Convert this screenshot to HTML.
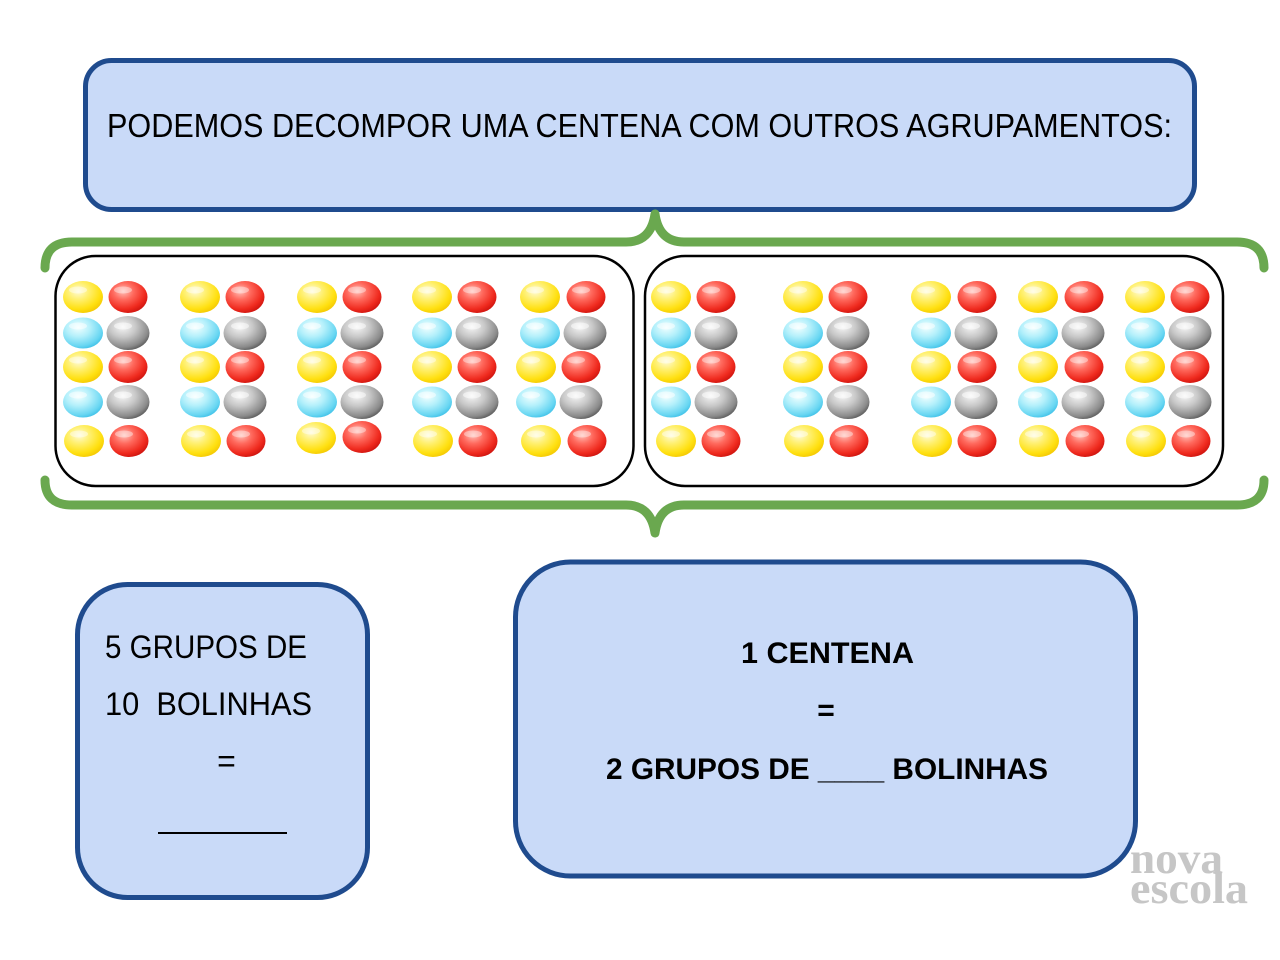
<!DOCTYPE html>
<html>
<head>
<meta charset="utf-8">
<style>
  html,body{margin:0;padding:0;background:#fff;}
  svg{display:block;}
</style>
</head>
<body>
<svg width="1280" height="960" viewBox="0 0 1280 960" xmlns="http://www.w3.org/2000/svg">
  <defs>
    <radialGradient id="gy" cx="0.38" cy="0.32" r="0.75">
      <stop offset="0" stop-color="#fffbd8"/>
      <stop offset="0.35" stop-color="#fff070"/>
      <stop offset="0.75" stop-color="#ffe010"/>
      <stop offset="1" stop-color="#f2c400"/>
    </radialGradient>
    <radialGradient id="gr" cx="0.38" cy="0.32" r="0.75">
      <stop offset="0" stop-color="#ffc0b8"/>
      <stop offset="0.35" stop-color="#ff6a5e"/>
      <stop offset="0.75" stop-color="#ef2a1e"/>
      <stop offset="1" stop-color="#c8100c"/>
    </radialGradient>
    <radialGradient id="gc" cx="0.38" cy="0.32" r="0.75">
      <stop offset="0" stop-color="#f2ffff"/>
      <stop offset="0.4" stop-color="#b4f0fb"/>
      <stop offset="0.8" stop-color="#68d6f2"/>
      <stop offset="1" stop-color="#38bde6"/>
    </radialGradient>
    <radialGradient id="gg" cx="0.38" cy="0.32" r="0.75">
      <stop offset="0" stop-color="#f6f6f6"/>
      <stop offset="0.4" stop-color="#c8c8c8"/>
      <stop offset="0.8" stop-color="#8a8a8a"/>
      <stop offset="1" stop-color="#505050"/>
    </radialGradient>
    <g id="Y"><ellipse rx="20" ry="16" fill="url(#gy)"/><ellipse cx="-5" cy="-7" rx="9" ry="3.5" fill="#fff" opacity=".45"/></g>
    <g id="R"><ellipse rx="19.5" ry="16" fill="url(#gr)"/><ellipse cx="-5" cy="-7" rx="9" ry="3.5" fill="#fff" opacity=".4"/></g>
    <g id="C"><ellipse rx="20" ry="15.5" fill="url(#gc)"/><ellipse cx="-5" cy="-7" rx="9" ry="3.5" fill="#fff" opacity=".5"/></g>
    <g id="G"><ellipse rx="21.5" ry="17" fill="url(#gg)"/><ellipse cx="-5" cy="-7" rx="9" ry="3.5" fill="#fff" opacity=".5"/></g>
  </defs>

  <!-- logo (drawn under boxes) -->
  <text x="1130" y="873" font-family="Liberation Serif, serif" font-weight="bold" font-size="44" fill="#c6c6c6" textLength="93" lengthAdjust="spacingAndGlyphs">nova</text>
  <text x="1130" y="903" font-family="Liberation Serif, serif" font-weight="bold" font-size="44" fill="#c6c6c6" textLength="118" lengthAdjust="spacingAndGlyphs">escola</text>

  <!-- top title box -->
  <rect x="85.5" y="60.5" width="1109" height="149" rx="26" ry="26" fill="#c9daf8" stroke="#1f4b8e" stroke-width="5"/>
  <text x="107" y="137" font-family="Liberation Sans, sans-serif" font-size="33" fill="#000" textLength="1065" lengthAdjust="spacingAndGlyphs">PODEMOS DECOMPOR UMA CENTENA COM OUTROS AGRUPAMENTOS:</text>

  <!-- green braces -->
  <path d="M45 268 Q45 242 72 242 L626 242 Q651 242 655 214 Q659 242 684 242 L1237 242 Q1264 242 1264 268" fill="none" stroke="#6aa84f" stroke-width="9" stroke-linecap="round" stroke-linejoin="round"/>
  <path d="M45 480 Q45 505 72 505 L626 505 Q651 505 655 533 Q659 505 684 505 L1237 505 Q1264 505 1264 480" fill="none" stroke="#6aa84f" stroke-width="9" stroke-linecap="round" stroke-linejoin="round"/>

  <!-- black group boxes -->
  <rect x="55.5" y="256" width="578" height="230" rx="40" ry="40" fill="#fff" stroke="#000" stroke-width="2.5"/>
  <rect x="645" y="256" width="578" height="230" rx="40" ry="40" fill="#fff" stroke="#000" stroke-width="2.5"/>

  <!-- left box balls -->
  <g>
    <use href="#Y" x="83" y="297"/><use href="#R" x="128" y="297"/>
    <use href="#C" x="83" y="333"/><use href="#G" x="128" y="333"/>
    <use href="#Y" x="83" y="367"/><use href="#R" x="128" y="367"/>
    <use href="#C" x="83" y="402"/><use href="#G" x="128" y="402"/>
    <use href="#Y" x="84" y="441"/><use href="#R" x="129" y="441"/>

    <use href="#Y" x="200" y="297"/><use href="#R" x="245" y="297"/>
    <use href="#C" x="200" y="333"/><use href="#G" x="245" y="333"/>
    <use href="#Y" x="200" y="367"/><use href="#R" x="245" y="367"/>
    <use href="#C" x="200" y="402"/><use href="#G" x="245" y="402"/>
    <use href="#Y" x="201" y="441"/><use href="#R" x="246" y="441"/>

    <use href="#Y" x="317" y="297"/><use href="#R" x="362" y="297"/>
    <use href="#C" x="317" y="333"/><use href="#G" x="362" y="333"/>
    <use href="#Y" x="317" y="367"/><use href="#R" x="362" y="367"/>
    <use href="#C" x="317" y="402"/><use href="#G" x="362" y="402"/>
    <use href="#Y" x="316" y="438"/><use href="#R" x="362" y="437"/>

    <use href="#Y" x="432" y="297"/><use href="#R" x="477" y="297"/>
    <use href="#C" x="432" y="333"/><use href="#G" x="477" y="333"/>
    <use href="#Y" x="432" y="367"/><use href="#R" x="477" y="367"/>
    <use href="#C" x="432" y="402"/><use href="#G" x="477" y="402"/>
    <use href="#Y" x="433" y="441"/><use href="#R" x="478" y="441"/>

    <use href="#Y" x="540" y="297"/><use href="#R" x="586" y="297"/>
    <use href="#C" x="540" y="333"/><use href="#G" x="585" y="333"/>
    <use href="#Y" x="536" y="367"/><use href="#R" x="581" y="367"/>
    <use href="#C" x="536" y="402"/><use href="#G" x="581" y="402"/>
    <use href="#Y" x="541" y="441"/><use href="#R" x="587" y="441"/>
  </g>

  <!-- right box balls -->
  <g>
    <use href="#Y" x="671" y="297"/><use href="#R" x="716" y="297"/>
    <use href="#C" x="671" y="333"/><use href="#G" x="716" y="333"/>
    <use href="#Y" x="671" y="367"/><use href="#R" x="716" y="367"/>
    <use href="#C" x="671" y="402"/><use href="#G" x="716" y="402"/>
    <use href="#Y" x="676" y="441"/><use href="#R" x="721" y="441"/>

    <use href="#Y" x="803" y="297"/><use href="#R" x="848" y="297"/>
    <use href="#C" x="803" y="333"/><use href="#G" x="848" y="333"/>
    <use href="#Y" x="803" y="367"/><use href="#R" x="848" y="367"/>
    <use href="#C" x="803" y="402"/><use href="#G" x="848" y="402"/>
    <use href="#Y" x="804" y="441"/><use href="#R" x="849" y="441"/>

    <use href="#Y" x="931" y="297"/><use href="#R" x="977" y="297"/>
    <use href="#C" x="931" y="333"/><use href="#G" x="976" y="333"/>
    <use href="#Y" x="931" y="367"/><use href="#R" x="977" y="367"/>
    <use href="#C" x="931" y="402"/><use href="#G" x="976" y="402"/>
    <use href="#Y" x="932" y="441"/><use href="#R" x="977" y="441"/>

    <use href="#Y" x="1038" y="297"/><use href="#R" x="1084" y="297"/>
    <use href="#C" x="1038" y="333"/><use href="#G" x="1083" y="333"/>
    <use href="#Y" x="1038" y="367"/><use href="#R" x="1084" y="367"/>
    <use href="#C" x="1038" y="402"/><use href="#G" x="1083" y="402"/>
    <use href="#Y" x="1039" y="441"/><use href="#R" x="1085" y="441"/>

    <use href="#Y" x="1145" y="297"/><use href="#R" x="1190" y="297"/>
    <use href="#C" x="1145" y="333"/><use href="#G" x="1190" y="333"/>
    <use href="#Y" x="1145" y="367"/><use href="#R" x="1190" y="367"/>
    <use href="#C" x="1145" y="402"/><use href="#G" x="1190" y="402"/>
    <use href="#Y" x="1146" y="441"/><use href="#R" x="1191" y="441"/>
  </g>

  <!-- bottom left box -->
  <rect x="77.5" y="584.5" width="290" height="313" rx="50" ry="50" fill="#c9daf8" stroke="#1f4b8e" stroke-width="5"/>
  <text x="105" y="658" font-family="Liberation Sans, sans-serif" font-size="32" fill="#000" textLength="202" lengthAdjust="spacingAndGlyphs">5 GRUPOS DE</text>
  <text x="105" y="715" font-family="Liberation Sans, sans-serif" font-size="32" fill="#000" textLength="207" lengthAdjust="spacingAndGlyphs" xml:space="preserve">10  BOLINHAS</text>
  <text x="226.5" y="772" font-family="Liberation Sans, sans-serif" font-size="32" fill="#000" text-anchor="middle">=</text>
  <rect x="158" y="832" width="129" height="2" fill="#000"/>

  <!-- bottom right box -->
  <rect x="515.5" y="562" width="620" height="314" rx="55" ry="55" fill="#c9daf8" stroke="#1f4b8e" stroke-width="5"/>
  <text x="741" y="663" font-family="Liberation Sans, sans-serif" font-weight="bold" font-size="30" fill="#000" textLength="173" lengthAdjust="spacingAndGlyphs">1 CENTENA</text>
  <text x="826" y="720" font-family="Liberation Sans, sans-serif" font-weight="bold" font-size="30" fill="#000" text-anchor="middle">=</text>
  <text x="606" y="779" font-family="Liberation Sans, sans-serif" font-weight="bold" font-size="30" fill="#000" textLength="442" lengthAdjust="spacingAndGlyphs">2 GRUPOS DE ____ BOLINHAS</text>
</svg>
</body>
</html>
